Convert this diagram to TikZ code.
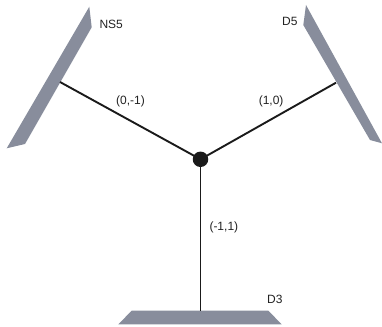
\documentclass[tikz,border=0pt]{standalone}
\usepackage{fontspec}
\setmainfont{Liberation Sans}
\definecolor{plate}{RGB}{136,141,156}
\definecolor{ink}{RGB}{26,26,26}
\definecolor{txt}{RGB}{34,34,34}
\begin{document}
\begin{tikzpicture}[x=1pt,y=-1pt,
  platefill/.style={fill=plate},
  leg/.style={draw=ink,line width=1.9pt},
  lbl/.style={inner sep=0pt,anchor=base west,text=txt,font=\fontsize{12}{14}\selectfont},
  junction/.style={circle,fill=ink,inner sep=0pt,minimum size=15.5pt}]
\useasboundingbox (0,0) rectangle (382,326);
% plates
\fill[platefill] (89.3,6.7) -- (91.7,27.3) -- (25,144) -- (6.7,148.3) -- cycle;
\fill[platefill] (306,5) -- (382,143.3) -- (370,140) -- (303.3,25) -- cycle;
\fill[platefill] (131.7,310.7) -- (268.3,310.7) -- (281.7,324.3) -- (118.3,324.3) -- cycle;
% attachment points
\coordinate (ns) at (60,82);
\coordinate (d5) at (336,82.7);
\coordinate (d3) at (200.5,310.7);
\node[junction] (c) at (200.5,159.3) {};
\draw[leg] (c.center) -- (ns);
\draw[leg] (c.center) -- (d5);
\draw[leg] (c.center) -- (d3);
% labels
\node[lbl] (lns) at (99.3,28.3) {NS5};
\node[lbl] (ld5) at (282,25.7) {D5};
\node[lbl] (ld3) at (267,303.3) {D3};
\node[lbl] (l1) at (116,104.3) {(0,-1)};
\node[lbl] (l2) at (258.6,104.8) {(1,0)};
\node[lbl] (l3) at (209.3,230.8) {(-1,1)};
\end{tikzpicture}
\end{document}
